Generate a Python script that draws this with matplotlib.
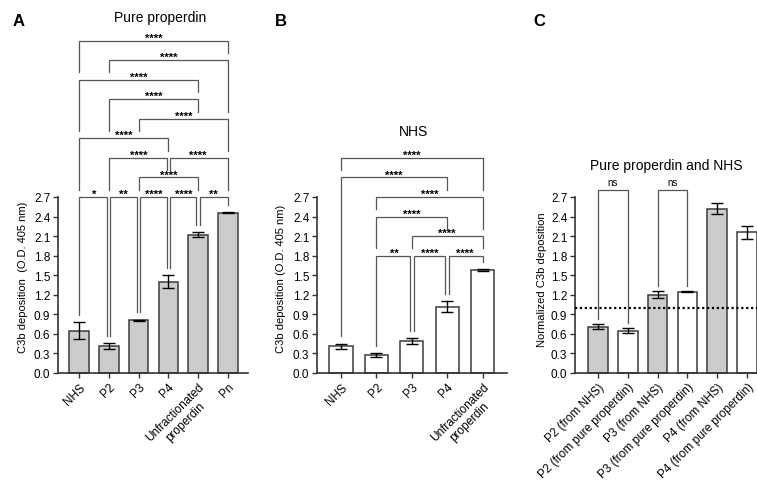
import matplotlib
matplotlib.use("Agg")
import matplotlib.pyplot as plt

plt.rcParams['font.family'] = ['Liberation Sans', 'DejaVu Sans']

# ---------------- data ----------------
a_labels = ['NHS', 'P2', 'P3', 'P4', 'Unfractionated\nproperdin', 'Pn']
a_means = [0.65, 0.42, 0.81, 1.40, 2.12, 2.46]
a_errs = [0.13, 0.045, 0.01, 0.10, 0.04, 0.01]
a_brackets = [(0, 1, 2.7, '*'), (1, 2, 2.7, '**'), (2, 3, 2.7, '****'),
              (3, 4, 2.7, '****'), (4, 5, 2.7, '**'),
              (2, 4, 3.0, '****'),
              (1, 3, 3.3, '****'), (3, 5, 3.3, '****'),
              (0, 3, 3.6, '****'),
              (2, 5, 3.9, '****'),
              (1, 4, 4.2, '****'),
              (0, 4, 4.5, '****'),
              (1, 5, 4.8, '****'),
              (0, 5, 5.1, '****')]

b_labels = ['NHS', 'P2', 'P3', 'P4', 'Unfractionated\nproperdin']
b_means = [0.41, 0.28, 0.49, 1.02, 1.58]
b_errs = [0.04, 0.03, 0.05, 0.08, 0.015]
b_brackets = [(1, 2, 1.8, '**'), (2, 3, 1.8, '****'), (3, 4, 1.8, '****'),
              (2, 4, 2.1, '****'),
              (1, 3, 2.4, '****'),
              (1, 4, 2.7, '****'),
              (0, 3, 3.0, '****'),
              (0, 4, 3.3, '****')]

c_labels = ['P2 (from NHS)', 'P2 (from pure properdin)', 'P3 (from NHS)',
            'P3 (from pure properdin)', 'P4 (from NHS)', 'P4 (from pure properdin)']
c_means = [0.71, 0.65, 1.20, 1.25, 2.52, 2.16]
c_errs = [0.035, 0.04, 0.055, 0.01, 0.085, 0.10]
c_fill = ['gray', 'white', 'gray', 'white', 'gray', 'white']
c_brackets = [(0, 1, 2.8, 'ns'), (2, 3, 2.8, 'ns')]
c_refline = 1.0

yticks = [0.0, 0.3, 0.6, 0.9, 1.2, 1.5, 1.8, 2.1, 2.4, 2.7]

# ---------------- style ----------------
GRAY = '#cccccc'
EDGE = '#3c3c3c'
LINE = '#555555'
W, H = 757, 481

fig = plt.figure(figsize=(W / 100, H / 100), dpi=100)


def px_axes(left, right, bottom, top):
    return fig.add_axes([left / W, 1 - bottom / H, (right - left) / W, (bottom - top) / H])


def style_axes(ax, xlim, labels, ylabel, ylab_x, ylab_y):
    ax.set_xlim(*xlim)
    ax.set_ylim(0, 2.7)
    ax.set_yticks(yticks)
    ax.set_yticklabels([f'{t:.1f}' for t in yticks], fontsize=8.5)
    ax.set_xticks(range(len(labels)))
    ax.set_xticklabels(labels, rotation=45, ha='right', va='top',
                       rotation_mode='anchor', fontsize=8.5, multialignment='center')
    for s in ['top', 'right']:
        ax.spines[s].set_visible(False)
    for s in ['left', 'bottom']:
        ax.spines[s].set_color('#333333')
        ax.spines[s].set_linewidth(1.2)
    ax.tick_params(axis='both', direction='out', length=3.5, width=1.0, color='#333333', pad=2)
    ax.set_ylabel(ylabel, fontsize=8)
    ax.yaxis.set_label_coords(ylab_x, ylab_y)


def draw_bars(ax, means, errs, fills):
    x = list(range(len(means)))
    cols = [GRAY if f == 'gray' else 'white' for f in fills]
    ax.bar(x, means, width=0.66, color=cols, edgecolor=EDGE, linewidth=1.1, zorder=2, clip_on=False)
    ax.errorbar(x, means, yerr=errs, fmt='none', ecolor='black', elinewidth=1.0,
                capsize=4, capthick=1.0, zorder=3, clip_on=False)


def draw_brackets(ax, means, errs, brackets, gap, off, fs, bold, txt_off, va):
    tops = [m + e for m, e in zip(means, errs)]
    for (i, j, L, lab) in brackets:
        xl = i + (off if any(b[1] == i and abs(b[2] - L) < 1e-9 for b in brackets) else 0)
        xr = j - (off if any(b[0] == j and abs(b[2] - L) < 1e-9 for b in brackets) else 0)

        def bottom(c):
            below = [b[2] for b in brackets if b[2] < L - 1e-9 and b[0] <= c <= b[1]]
            return max(below + [tops[c]]) + gap

        ax.plot([xl, xl, xr, xr], [bottom(i), L, L, bottom(j)], color=LINE,
                linewidth=0.9, clip_on=False, zorder=4, solid_joinstyle='miter')
        ax.annotate(lab, xy=((i + j) / 2, L), xytext=(0, txt_off), textcoords='offset points',
                    ha='center', va=va, fontsize=fs,
                    fontweight='bold' if bold else 'normal', annotation_clip=False)


# Panel A
axA = px_axes(58, 248, 374, 198)
draw_bars(axA, a_means, a_errs, ['gray'] * len(a_means))
style_axes(axA, (-0.70, 5.67), a_labels, 'C3b deposition  (O.D. 405 nm)', -0.16, 0.55)
draw_brackets(axA, a_means, a_errs, a_brackets, 0.11, 0.06, 8, True, 0.0, 'baseline')

# Panel B
axB = px_axes(317, 507, 374, 198)
draw_bars(axB, b_means, b_errs, ['white'] * len(b_means))
style_axes(axB, (-0.68, 4.69), b_labels, 'C3b deposition (O.D. 405 nm)', -0.163, 0.54)
draw_brackets(axB, b_means, b_errs, b_brackets, 0.11, 0.06, 8, True, 0.0, 'baseline')

# Panel C
axC = px_axes(575, 770, 374, 198)
draw_bars(axC, c_means, c_errs, c_fill)
style_axes(axC, (-0.76, 5.76), c_labels, 'Normalized C3b deposition', -0.144, 0.535)
axC.axhline(c_refline, color='black', linewidth=1.6, linestyle=(0, (1, 1.2)), zorder=5)
draw_brackets(axC, c_means, c_errs, c_brackets, 0.08, 0.06, 7, False, 4.0, 'baseline')

# Titles and panel letters
fig.text(160 / W, 1 - 18 / H, 'Pure properdin', ha='center', va='center', fontsize=10)
fig.text(413 / W, 1 - 132 / H, 'NHS', ha='center', va='center', fontsize=10)
fig.text(666 / W, 1 - 166 / H, 'Pure properdin and NHS', ha='center', va='center', fontsize=10)
for lx, letter in [(13, 'A'), (275, 'B'), (533, 'C')]:
    fig.text(lx / W, 1 - 22 / H, letter, ha='left', va='center', fontsize=12, fontweight='bold')

fig.savefig('out.png', dpi=100)
